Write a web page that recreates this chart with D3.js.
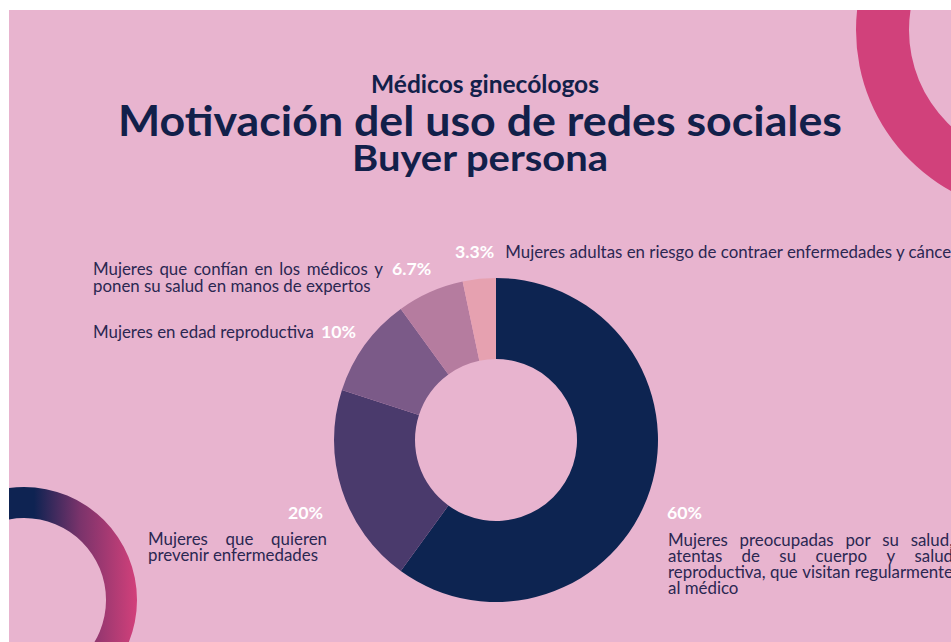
<!DOCTYPE html>
<html>
<head>
<meta charset="utf-8">
<script src="https://cdn.jsdelivr.net/npm/d3@7"></script>
<style>
  html, body { margin: 0; padding: 0; background: #ffffff; overflow: hidden; }
  svg { display: block; }
</style>
</head>
<body>
<svg id="chart" width="951" height="642"></svg>
<script>
// Share of each motivation segment (percent), clockwise from 12 o'clock
const shares = [60, 20, 10, 6.7, 3.3];
const shareLabels = ["60%", "20%", "10%", "6.7%", "3.3%"];
// Segment descriptions, already broken into display lines
const segmentLines = [
  ["Mujeres preocupadas por su salud,", "atentas de su cuerpo y salud", "reproductiva, que visitan regularmente", "al médico"],
  ["Mujeres que quieren", "prevenir enfermedades"],
  ["Mujeres en edad reproductiva"],
  ["Mujeres que confían en los médicos y", "ponen su salud en manos de expertos"],
  ["Mujeres adultas en riesgo de contraer enfermedades y cáncer"]
];
const sliceColors = ["#0d2451", "#4a3a6c", "#7b5a88", "#b57c9f", "#e6a1b0"];
const titleLines = ["Médicos ginecólogos", "Motivación del uso de redes sociales", "Buyer persona"];

const W = 951, H = 642;
const BG = "#e8b4cf";
const INK = "#12204a";
const TEXT = "#2b2752";
const FONT = "Lato, 'Open Sans', sans-serif";

const svg = d3.select("#chart");
const defs = svg.append("defs");

// Card area (thin white margin on top and left)
defs.append("clipPath").attr("id", "card")
  .append("rect").attr("x", 9).attr("y", 10).attr("width", W - 9).attr("height", H - 10);

const root = svg.append("g").attr("clip-path", "url(#card)");
root.append("rect").attr("x", 9).attr("y", 10).attr("width", W - 9).attr("height", H - 10).attr("fill", BG);

// Decorative gradient rings
const gBL = defs.append("linearGradient").attr("id", "ringBL")
  .attr("gradientUnits", "userSpaceOnUse").attr("x1", 10).attr("y1", 0).attr("x2", 112).attr("y2", 0);
gBL.append("stop").attr("offset", 0).attr("stop-color", "#0e2352");
gBL.append("stop").attr("offset", 0.45).attr("stop-color", "#7a336b");
gBL.append("stop").attr("offset", 1).attr("stop-color", "#d1407a");

const gTR = defs.append("linearGradient").attr("id", "ringTR")
  .attr("gradientUnits", "userSpaceOnUse").attr("x1", 870).attr("y1", 40).attr("x2", 965).attr("y2", 200);
gTR.append("stop").attr("offset", 0).attr("stop-color", "#d1417b");
gTR.append("stop").attr("offset", 0.45).attr("stop-color", "#c23c76");
gTR.append("stop").attr("offset", 1).attr("stop-color", "#7d2d68");

const ring = d3.arc().startAngle(0).endAngle(2 * Math.PI);
root.append("path")
  .attr("transform", "translate(24,600)")
  .attr("d", ring.innerRadius(82).outerRadius(113)())
  .attr("fill", "url(#ringBL)");
root.append("path")
  .attr("transform", "translate(1040,30)")
  .attr("d", ring.innerRadius(131).outerRadius(184)())
  .attr("fill", "url(#ringTR)");

// Titles
const titleSpec = [
  { size: 24, y: 93, len: 228, cx: 485 },
  { size: 42, y: 136, len: 724, cx: 480 },
  { size: 37, y: 171, len: 256, cx: 480 }
];
root.selectAll("text.title").data(titleLines).join("text")
  .attr("class", "title")
  .attr("x", (d, i) => titleSpec[i].cx)
  .attr("y", (d, i) => titleSpec[i].y)
  .attr("text-anchor", "middle")
  .attr("font-family", FONT).attr("font-weight", 700)
  .attr("font-size", (d, i) => titleSpec[i].size)
  .attr("textLength", (d, i) => titleSpec[i].len)
  .attr("lengthAdjust", "spacingAndGlyphs")
  .attr("fill", INK)
  .text(d => d);

// Donut
const cx = 496, cy = 440;
const pie = d3.pie().sort(null).value(d => d);
const arc = d3.arc().innerRadius(81).outerRadius(162);
const donut = root.append("g").attr("transform", `translate(${cx},${cy})`);
donut.selectAll("path").data(pie(shares)).join("path")
  .attr("d", arc)
  .attr("fill", (d, i) => sliceColors[i]);

// Label font size: sized so the body copy has its intended measure
const probe = root.append("text").attr("font-family", FONT).attr("font-size", 15).text(segmentLines[2][0]);
const fs = 15 * 221 / probe.node().getComputedTextLength();
probe.remove();

const labels = root.append("g").attr("font-family", FONT).attr("font-size", fs);

function measure(str, weight) {
  const t = labels.append("text").attr("font-weight", weight || 400).text(str);
  const w = t.node().getComputedTextLength();
  t.remove();
  return w;
}

function plainLine(str, x, y) {
  labels.append("text").attr("x", x).attr("y", y).attr("fill", TEXT).text(str);
  return x + measure(str);
}

// Full-justified line: words spread so the line fills the given width
function justifiedLine(str, x, y, width) {
  const words = str.split(" ");
  const widths = words.map(w => measure(w));
  const gap = (width - d3.sum(widths)) / (words.length - 1);
  let px = x;
  words.forEach((w, i) => {
    labels.append("text").attr("x", px).attr("y", y).attr("fill", TEXT).text(w);
    px += widths[i] + gap;
  });
}

function pctLabel(str, x, y, anchor) {
  labels.append("text").attr("x", x).attr("y", y)
    .attr("text-anchor", anchor || "start")
    .attr("font-weight", 700).attr("font-size", fs * 1.05)
    .attr("fill", "#ffffff").text(str);
}

function paragraph(lines, x, y, width, lh) {
  lines.forEach((ln, i) => {
    const yy = y + i * lh;
    if (i < lines.length - 1) justifiedLine(ln, x, yy, width);
    else plainLine(ln, x, yy);
  });
}

// 60% — right block
pctLabel(shareLabels[0], 667, 519);
paragraph(segmentLines[0], 668, 546, 285, 16);

// 20% — lower left block
pctLabel(shareLabels[1], 323, 519, "end");
paragraph(segmentLines[1], 148, 545, 179, 16);

// 10% — inline after the description
const end10 = plainLine(segmentLines[2][0], 93, 338);
pctLabel(shareLabels[2], end10 + 7, 338);

// 6.7% — two-line block with the value after the first line
paragraph(segmentLines[3], 93, 275, 290, 16.5);
pctLabel(shareLabels[3], 93 + 290 + 9, 275);

// 3.3% — value first, description after it
pctLabel(shareLabels[4], 455, 258);
plainLine(segmentLines[4][0], 455 + measure(shareLabels[4], 700) * 1.05 + 11, 258);
</script>
</body>
</html>
